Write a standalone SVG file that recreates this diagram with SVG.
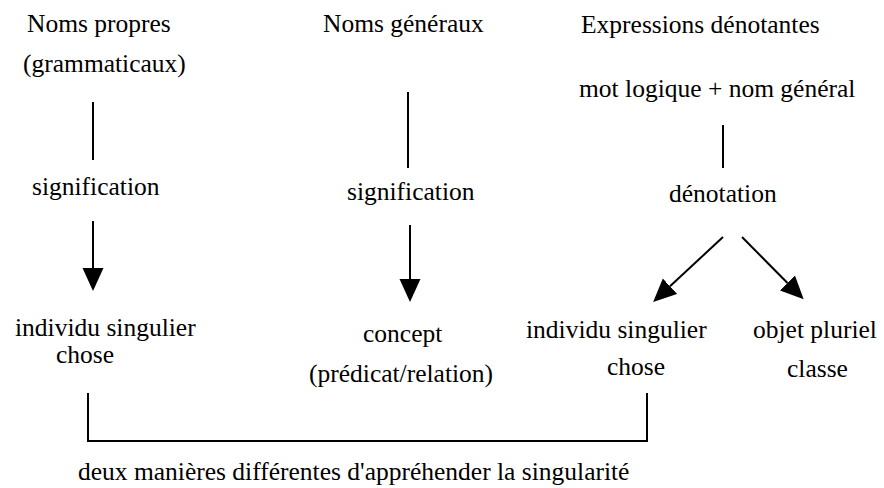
<svg xmlns="http://www.w3.org/2000/svg" width="884" height="488" viewBox="0 0 884 488">
<style>
text{font-family:"Liberation Serif","Times New Roman",serif;font-size:25.5px;fill:#000}
.ln{stroke:#000;stroke-width:2;fill:none}
</style>
<defs>
<marker id="ah" markerUnits="userSpaceOnUse" markerWidth="24" markerHeight="22" refX="0" refY="10.5" orient="auto" viewBox="0 0 24 21">
<path d="M0,0 L23,10.5 L0,21 z" fill="#000"/>
</marker>
</defs>
<rect width="884" height="488" fill="#fff"/>
<g id="col1">
<g id="noms-propres"><text x="27" y="32">Noms propres</text><text x="23" y="72">(grammaticaux)</text></g>
<g id="signification1"><text x="32" y="195">signification</text></g>
<g id="individu1"><text x="15" y="336">individu singulier</text><text x="56" y="363">chose</text></g>
</g>
<g id="col2">
<g id="noms-generaux"><text x="323" y="32">Noms généraux</text></g>
<g id="signification2"><text x="347" y="200">signification</text></g>
<g id="concept"><text x="363" y="342">concept</text><text x="309" y="382">(prédicat/relation)</text></g>
</g>
<g id="col3">
<g id="expressions"><text x="581" y="33">Expressions dénotantes</text></g>
<g id="mot-logique"><text x="579" y="97">mot logique + nom général</text></g>
<g id="denotation"><text x="669" y="202">dénotation</text></g>
<g id="individu2"><text x="526" y="338">individu singulier</text><text x="607" y="375">chose</text></g>
<g id="objet-pluriel"><text x="753" y="338">objet pluriel</text><text x="787" y="377">classe</text></g>
</g>
<g id="note"><text x="78" y="480">deux manières différentes d'appréhender la singularité</text></g>
<g id="connectors">
<line class="ln" x1="93" y1="102" x2="93" y2="160"/>
<line class="ln" x1="93" y1="221" x2="93" y2="268" marker-end="url(#ah)"/>
<line class="ln" x1="408" y1="92" x2="408" y2="168"/>
<line class="ln" x1="410" y1="225" x2="410" y2="279" marker-end="url(#ah)"/>
<line class="ln" x1="723" y1="125" x2="723" y2="168"/>
<line class="ln" x1="723" y1="237" x2="670" y2="286.3" marker-end="url(#ah)"/>
<line class="ln" x1="742" y1="237" x2="787.5" y2="283" marker-end="url(#ah)"/>
<path class="ln" d="M88,393 V441 H647 V393"/>
</g>
</svg>
